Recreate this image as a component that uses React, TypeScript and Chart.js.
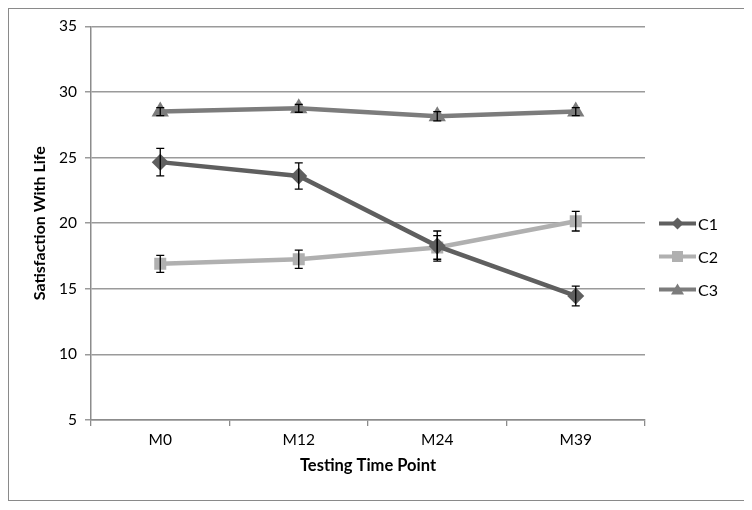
import React, { useEffect, useRef } from 'react';
import { Chart, registerables } from 'chart.js';

Chart.register(...registerables);

const categories = ['M0', 'M12', 'M24', 'M39'];
const c1Values = [24.65, 23.6, 18.25, 14.45];
const c1Errors = [1.05, 1.0, 1.15, 0.75];
const c2Values = [16.9, 17.25, 18.15, 20.15];
const c2Errors = [0.65, 0.7, 0.9, 0.75];
const c3Values = [28.5, 28.75, 28.15, 28.5];
const c3Errors = [0.3, 0.3, 0.35, 0.3];
const seriesNames = ['C1', 'C2', 'C3'];
const yTitle = 'Satisfaction With Life';
const xTitle = 'Testing Time Point';

const FONT = 'Lato, "Open Sans", sans-serif';

const errorBarPlugin = {
  id: 'errorBars',
  afterDatasetsDraw(chart: any) {
    const ctx = chart.ctx;
    const yScale = chart.scales.y;
    chart.data.datasets.forEach((ds: any, i: number) => {
      const meta = chart.getDatasetMeta(i);
      const errs: number[] = ds.errors || [];
      meta.data.forEach((pt: any, j: number) => {
        const v = ds.data[j];
        const e = errs[j];
        if (e == null) return;
        const yTop = yScale.getPixelForValue(v + e);
        const yBot = yScale.getPixelForValue(v - e);
        const x = pt.x;
        ctx.save();
        ctx.strokeStyle = '#000';
        ctx.lineWidth = 1.3;
        ctx.beginPath();
        ctx.moveTo(x, yTop);
        ctx.lineTo(x, yBot);
        ctx.moveTo(x - 4, yTop);
        ctx.lineTo(x + 4, yTop);
        ctx.moveTo(x - 4, yBot);
        ctx.lineTo(x + 4, yBot);
        ctx.stroke();
        ctx.restore();
      });
    });
  },
};

const customLegendPlugin = {
  id: 'customLegend',
  afterDraw(chart: any) {
    const ctx = chart.ctx;
    const ds = chart.data.datasets;
    const x0 = chart.chartArea.right + 14;
    const cy = chart.height / 2 + 2;
    ds.forEach((d: any, i: number) => {
      const y = cy + (i - 1) * 33;
      ctx.save();
      ctx.strokeStyle = d.borderColor;
      ctx.lineWidth = 4;
      ctx.beginPath();
      ctx.moveTo(x0, y);
      ctx.lineTo(x0 + 37, y);
      ctx.stroke();
      ctx.fillStyle = d.backgroundColor;
      const mx = x0 + 18.5;
      ctx.beginPath();
      if (d.pointStyle === 'rectRot') {
        ctx.moveTo(mx, y - 6);
        ctx.lineTo(mx + 6, y);
        ctx.lineTo(mx, y + 6);
        ctx.lineTo(mx - 6, y);
      } else if (d.pointStyle === 'rect') {
        ctx.rect(mx - 5.5, y - 5.5, 11, 11);
      } else {
        ctx.moveTo(mx, y - 6);
        ctx.lineTo(mx + 6.5, y + 5);
        ctx.lineTo(mx - 6.5, y + 5);
      }
      ctx.closePath();
      ctx.fill();
      ctx.fillStyle = '#000';
      ctx.font = '16px ' + FONT;
      ctx.textBaseline = 'middle';
      ctx.textAlign = 'left';
      ctx.fillText(d.label, x0 + 39, y + 1);
      ctx.restore();
    });
  },
};

export default function App() {
  const ref = useRef<HTMLCanvasElement>(null);
  useEffect(() => {
    if (!ref.current) return;
    const chart = new Chart(ref.current, {
      type: 'line',
      data: {
        labels: categories,
        datasets: [
          {
            label: seriesNames[0],
            data: c1Values,
            errors: c1Errors,
            borderColor: '#5f5f5f',
            backgroundColor: '#5f5f5f',
            borderWidth: 4.5,
            pointStyle: 'rectRot',
            pointRadius: 8.5,
            pointBorderWidth: 0,
            order: 1,
          } as any,
          {
            label: seriesNames[1],
            data: c2Values,
            errors: c2Errors,
            borderColor: '#b0b0b0',
            backgroundColor: '#b0b0b0',
            borderWidth: 4.5,
            pointStyle: 'rect',
            pointRadius: 8.5,
            pointBorderWidth: 0,
            order: 2,
          } as any,
          {
            label: seriesNames[2],
            data: c3Values,
            errors: c3Errors,
            borderColor: '#7c7c7c',
            backgroundColor: '#7c7c7c',
            borderWidth: 4.5,
            pointStyle: 'triangle',
            pointRadius: 10,
            pointBorderWidth: 0,
            order: 3,
          } as any,
        ],
      },
      options: {
        animation: false,
        responsive: true,
        maintainAspectRatio: false,
        layout: { padding: { left: 17, right: 100, top: 10, bottom: 20 } },
        plugins: {
          legend: { display: false },
          tooltip: { enabled: false },
        },
        scales: {
          x: {
            offset: true,
            grid: {
              display: true,
              offset: true,
              drawOnChartArea: false,
              drawTicks: true,
              tickLength: 6,
              color: '#8c8c8c',
              lineWidth: 1.3,
            },
            border: { display: true, color: '#8c8c8c', width: 1.5 },
            ticks: {
              color: '#000',
              font: { family: FONT, size: 15.5 },
              padding: 5,
            },
            title: {
              display: true,
              text: xTitle,
              color: '#000',
              font: { family: FONT, size: 16.5, weight: 'bold' },
              padding: { top: 4, bottom: 4 },
            },
            afterFit(scale: any) {
              scale.height = 60;
            },
          },
          y: {
            min: 5,
            max: 35,
            ticks: {
              stepSize: 5,
              color: '#000',
              font: { family: FONT, size: 15.5 },
              padding: 8,
            },
            grid: {
              color: '#9a9a9a',
              lineWidth: 1.5,
              tickLength: 6,
            },
            border: { display: true, color: '#8c8c8c', width: 1.5 },
            title: {
              display: true,
              text: yTitle,
              color: '#000',
              font: { family: FONT, size: 16, weight: 'bold' },
              padding: { top: 4, bottom: 4 },
            },
            afterFit(scale: any) {
              scale.width = 65;
            },
          },
        },
      } as any,
      plugins: [errorBarPlugin, customLegendPlugin],
    });
    return () => chart.destroy();
  }, []);
  return (
    <div
      style={{
        width: 738,
        height: 493,
        boxSizing: 'border-box',
        border: '1px solid #8a8a8a',
        position: 'relative',
      }}
    >
      <canvas ref={ref} />
    </div>
  );
}
